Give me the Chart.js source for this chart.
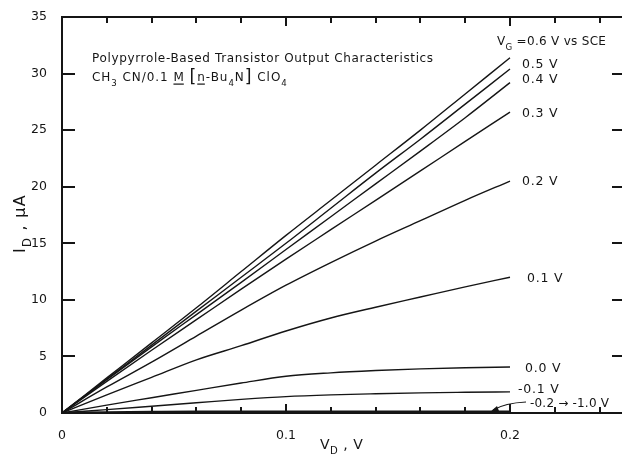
<!DOCTYPE html>
<html>
<head>
<meta charset="utf-8">
<title>Polypyrrole-Based Transistor Output Characteristics</title>
<script src="https://cdn.jsdelivr.net/npm/chart.js@4/dist/chart.umd.min.js"></script>
<style>
  body { margin: 0; background: #fff; }
  canvas { display: block; }
</style>
</head>
<body>
<canvas id="chart" width="622" height="455"></canvas>
<script>
'use strict';
//data
let vdValues = [0, 0.02, 0.04, 0.06, 0.08, 0.1, 0.12, 0.14, 0.16, 0.18, 0.2];
let gate06 = [0, 3.1, 6.2, 9.3, 12.5, 15.7, 18.8, 21.9, 25.0, 28.2, 31.4];
let gate05 = [0, 3.0, 6.0, 9.0, 12.0, 15.0, 18.1, 21.2, 24.2, 27.3, 30.4];
let gate04 = [0, 2.95, 5.85, 8.7, 11.55, 14.45, 17.35, 20.25, 23.15, 26.1, 29.2];
let gate03 = [0, 2.8, 5.55, 8.25, 10.95, 13.6, 16.2, 18.8, 21.4, 24.0, 26.6];
let gate02 = [0, 2.3, 4.5, 6.8, 9.1, 11.3, 13.3, 15.2, 17.0, 18.8, 20.5];
let gate01 = [0, 1.6, 3.15, 4.7, 5.95, 7.25, 8.4, 9.35, 10.25, 11.15, 12.0];
let gate00 = [0, 0.7, 1.35, 2.0, 2.65, 3.25, 3.55, 3.75, 3.9, 4.0, 4.07];
let gateM01 = [0, 0.3, 0.6, 0.9, 1.2, 1.45, 1.6, 1.7, 1.78, 1.83, 1.87];
let gateLow = [0, 0.05, 0.08, 0.1, 0.1, 0.1, 0.1, 0.1, 0.1, 0.1, 0.1];
let yTicks = [0, 5, 10, 15, 20, 25, 30, 35];
let xLabelTicks = [0, 0.1, 0.2];
let xMinorTicks = [0.02, 0.04, 0.06, 0.08, 0.1, 0.12, 0.14, 0.16, 0.18, 0.2, 0.22, 0.24];

const INK = '#151515';
const FONT = '"DejaVu Sans", sans-serif';

//turn value arrays into {x,y} points
function toPoints(values){
  let pts = [];
  for (let i = 0; i < vdValues.length; i++){
    pts.push({x: vdValues[i], y: values[i]});
  }
  return pts;
}

function makeSet(label, values, width){
  return {
    label: label,
    data: toPoints(values),
    borderColor: INK,
    borderWidth: width || 1.4,
    pointRadius: 0,
    fill: false,
    cubicInterpolationMode: 'monotone'
  };
}

//draws a list of text runs, with subscripts and underlines
function drawRuns(ctx, runs, x, y, size, spacing){
  let cx = x;
  ctx.textBaseline = 'alphabetic';
  ctx.textAlign = 'left';
  for (let i = 0; i < runs.length; i++){
    let r = runs[i];
    let s = r.sub ? size * 0.72 : (r.big ? size * 1.45 : size);
    let dy = r.sub ? size * 0.38 : (r.big ? size * 0.12 : 0);
    ctx.font = s + 'px ' + FONT;
    ctx.letterSpacing = (spacing || 0) + 'px';
    ctx.fillText(r.t, cx, y + dy);
    let w = ctx.measureText(r.t).width;
    if (r.under){
      ctx.fillRect(cx, y + 2.5, w - (spacing || 0), 1.2);
    }
    cx += w;
  }
  ctx.letterSpacing = '0px';
}

//frame, inward ticks and the text written on the figure
let figurePlugin = {
  id: 'figure',
  afterDraw(chart){
    let ctx = chart.ctx;
    let area = chart.chartArea;
    let xs = chart.scales.x;
    let ys = chart.scales.y;
    let left = Math.round(area.left);
    let right = Math.round(area.right);
    let top = Math.round(area.top);
    let bottom = Math.round(area.bottom);
    ctx.save();
    ctx.fillStyle = INK;

    //frame
    ctx.fillRect(left - 1, top - 1, right - left + 1, 2);
    ctx.fillRect(left - 1, top - 1, 2, bottom - top + 2);
    ctx.fillRect(left - 1, bottom - 1, right - left + 1, 2);

    //ticks pointing into the plot
    for (let i = 0; i < yTicks.length; i++){
      let py = Math.round(ys.getPixelForValue(yTicks[i]));
      ctx.fillRect(left, py - 1, 13, 2);
      ctx.fillRect(right - 10, py - 1, 10, 2);
    }
    for (let i = 0; i < xMinorTicks.length; i++){
      let px = Math.round(xs.getPixelForValue(xMinorTicks[i]));
      let major = xLabelTicks.indexOf(xMinorTicks[i]) >= 0;
      let lenB = major ? 9 : 6;
      let lenT = major ? 9 : 6;
      ctx.fillRect(px - 1, bottom - lenB, 2, lenB);
      ctx.fillRect(px - 1, top, 2, lenT);
    }

    //figure title
    drawRuns(ctx, [{t: 'Polypyrrole-Based Transistor Output Characteristics'}], 92, 62, 12, 0.65);
    drawRuns(ctx, [
      {t: 'CH'}, {t: '3', sub: true}, {t: ' CN/0.1 '}, {t: 'M', under: true}, {t: ' '},
      {t: '[', big: true}, {t: 'n', under: true}, {t: '-Bu'}, {t: '4', sub: true},
      {t: 'N'}, {t: ']', big: true}, {t: ' ClO'}, {t: '4', sub: true}
    ], 92, 81, 12, 0.95);

    //curve labels
    drawRuns(ctx, [{t: 'V'}, {t: 'G', sub: true}, {t: ' =0.6 V vs SCE'}], 497, 45, 12, 0.3);
    drawRuns(ctx, [{t: '0.5 V'}], 522, 68, 12.5, 0.8);
    drawRuns(ctx, [{t: '0.4 V'}], 522, 83, 12.5, 0.8);
    drawRuns(ctx, [{t: '0.3 V'}], 522, 117, 12.5, 0.8);
    drawRuns(ctx, [{t: '0.2 V'}], 522, 185, 12.5, 0.8);
    drawRuns(ctx, [{t: '0.1 V'}], 527, 282, 12.5, 0.8);
    drawRuns(ctx, [{t: '0.0 V'}], 525, 372, 12.5, 0.8);
    drawRuns(ctx, [{t: '-0.1 V'}], 518, 393, 12.5, 0.8);
    drawRuns(ctx, [{t: '-0.2 \u2192 -1.0 V'}], 530, 407, 12, 0.2);

    //arrow pointing at the bottom curve
    ctx.strokeStyle = INK;
    ctx.lineWidth = 1.2;
    ctx.beginPath();
    ctx.moveTo(526, 402);
    ctx.quadraticCurveTo(505, 403, 493, 410);
    ctx.stroke();
    ctx.beginPath();
    ctx.moveTo(489, 413);
    ctx.lineTo(497, 406);
    ctx.lineTo(499, 411);
    ctx.closePath();
    ctx.fill();

    //axis titles
    drawRuns(ctx, [{t: 'V'}, {t: 'D', sub: true}, {t: ' , V'}], 320, 449, 14, 0.5);
    ctx.translate(25, 253);
    ctx.rotate(-Math.PI / 2);
    drawRuns(ctx, [{t: 'I'}, {t: 'D', sub: true}, {t: ' , \u03bcA'}], 0, 0, 16, 1.3);
    ctx.restore();
  }
};

let ctx = document.getElementById('chart').getContext('2d');
new Chart(ctx, {
  type: 'line',
  data: {
    datasets: [
      makeSet('0.6 V', gate06),
      makeSet('0.5 V', gate05),
      makeSet('0.4 V', gate04),
      makeSet('0.3 V', gate03),
      makeSet('0.2 V', gate02),
      makeSet('0.1 V', gate01),
      makeSet('0.0 V', gate00),
      makeSet('-0.1 V', gateM01),
      makeSet('-0.2 to -1.0 V', gateLow, 2.6)
    ]
  },
  options: {
    responsive: false,
    animation: false,
    devicePixelRatio: 1,
    layout: { padding: { top: 17, right: 0, left: 0, bottom: 0 } },
    plugins: {
      legend: { display: false },
      tooltip: { enabled: false }
    },
    scales: {
      x: {
        type: 'linear',
        min: 0,
        max: 0.25,
        grid: { display: false },
        border: { display: false },
        afterBuildTicks(scale){
          scale.ticks = xLabelTicks.map(v => ({value: v}));
        },
        afterFit(scale){
          scale.height = 42;
        },
        ticks: {
          color: INK,
          padding: 7,
          font: { family: 'DejaVu Sans', size: 12.5 },
          callback: v => (v === 0 ? '0' : String(v))
        }
      },
      y: {
        min: 0,
        max: 35,
        grid: { display: false },
        border: { display: false },
        afterBuildTicks(scale){
          scale.ticks = yTicks.map(v => ({value: v}));
        },
        afterFit(scale){
          scale.width = 62;
        },
        ticks: {
          color: INK,
          padding: 7,
          font: { family: 'DejaVu Sans', size: 12.5 }
        }
      }
    }
  },
  plugins: [figurePlugin]
});
</script>
</body>
</html>
